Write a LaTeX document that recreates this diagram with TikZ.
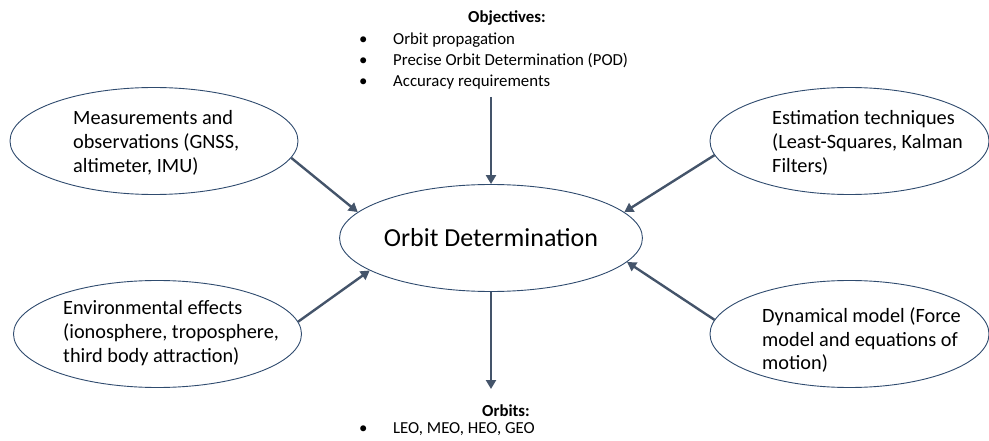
\documentclass[tikz,border=0pt]{standalone}
\usepackage{fontspec}
\setmainfont{Carlito}
\usetikzlibrary{arrows.meta, shapes.geometric}

\definecolor{slate}{HTML}{44546A}
\definecolor{rim}{HTML}{2F4B6E}

\tikzset{
    bubble/.style={ellipse, draw=rim, line width=0.9pt, inner sep=0pt,
        minimum width=#1, minimum height=107pt},
    bubble/.default=288pt,
    blurb/.style={anchor=west, align=left, inner sep=0pt,
        font=\fontsize{20.3}{23.8}\selectfont},
    feed/.style={draw=slate, line width=2.4pt,
        -{Triangle[length=9pt, width=10pt]}},
    note/.style={align=left, inner sep=0pt,
        font=\fontsize{16.8}{21}\selectfont},
}

\begin{document}
\begin{tikzpicture}[x=1pt, y=-1pt]
\useasboundingbox (0,0) rectangle (989,441);

            \node[bubble=282pt, font=\fontsize{26}{31}\selectfont] (od) at (491,238) {Orbit Determination};

            \node[bubble] (meas) at (154,141) {};
            \node[blurb] (meastxt) at (73,143) {Measurements and\\observations (GNSS,\\altimeter, IMU)};

            \node[bubble=279pt] (est) at (849.5,141) {};
            \node[blurb] (esttxt) at (772,143) {Estimation techniques\\(Least-Squares, Kalman\\Filters)};

            \node[bubble] (env) at (157.5,334) {};
            \node[blurb] (envtxt) at (63,333) {Environmental effects\\(ionosphere, troposphere,\\third body attraction)};

            \node[bubble=279pt] (dyn) at (849.5,334) {};
            \node[blurb] (dyntxt) at (762,340) {Dynamical model (Force\\model and equations of\\motion)};

            %% Objectives
            \node[note, font=\fontsize{16.8}{21}\bfseries\selectfont] (objhead) at (507,18) {Objectives:};
            \node[note, anchor=west] (objlist) at (359,61) {%
                \makebox[34pt][l]{\textbullet}Orbit propagation\\
                \makebox[34pt][l]{\textbullet}Precise Orbit Determination (POD)\\
                \makebox[34pt][l]{\textbullet}Accuracy requirements};
            \coordinate (objend) at (491,97);

            %% Orbits
            \node[note, font=\fontsize{16.8}{21}\bfseries\selectfont] (orbhead) at (506,411) {Orbits:};
            \node[note, anchor=west] (orblist) at (359,429) {%
                \makebox[34pt][l]{\textbullet}LEO, MEO, HEO, GEO};
            \coordinate (orbend) at (491,389);

            %% arrows into the centre
            \draw[feed] (objend) -- (od.north);
            \draw[feed] (meas.-7) -- (od.169);
            \draw[feed] (est.186) -- (od.11);
            \draw[feed] (env.5) -- (od.195);
            \draw[feed] (dyn.174) -- (od.350);
            \draw[feed] (od.south) -- (orbend);

\end{tikzpicture}
\end{document}
